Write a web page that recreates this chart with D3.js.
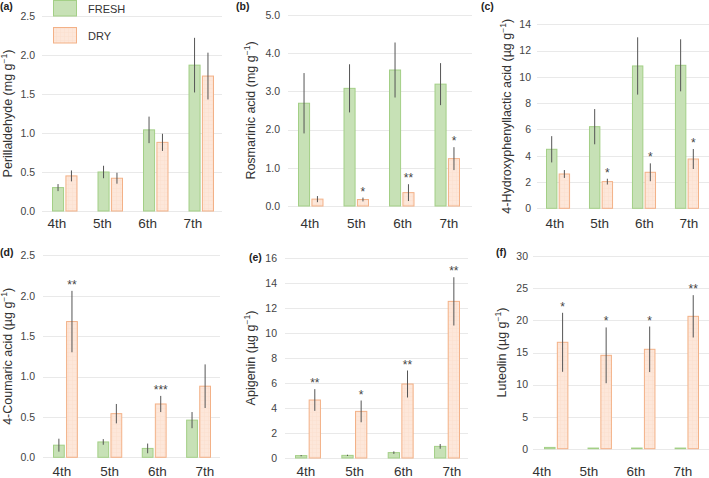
<!DOCTYPE html>
<html><head><meta charset="utf-8">
<script src="https://cdn.jsdelivr.net/npm/d3@7"></script>
<style>
html,body{margin:0;padding:0;background:#fff;}
svg{display:block;font-family:"Liberation Sans",Arial,sans-serif;}
</style></head>
<body><svg id="chart" width="709" height="478"></svg>
<script>
// ---- data ----
const categories = ["4th","5th","6th","7th"];
const seriesNames = ["FRESH","DRY"];
const panelLetters = ["(a)","(b)","(c)","(d)","(e)","(f)"];
const yTitles = ["Perillaldehyde (mg g","Rosmarinic acid (mg g","4-Hydroxyphenyllactic acid (µg g","4-Coumaric acid (µg g","Apigenin (µg g","Luteolin (µg g"];
const yMax = [2.5, 5.0, 14, 2.5, 16, 30];
const yStep = [0.5, 1.0, 2, 0.5, 2, 5];
const yDecimals = [1, 1, 0, 1, 0, 0];

const freshA = [0.30, 0.50, 1.04, 1.87], freshAErr = [0.045, 0.08, 0.17, 0.35];
const dryA   = [0.45, 0.42, 0.88, 1.73], dryAErr   = [0.07, 0.07, 0.11, 0.30];
const freshB = [2.69, 3.08, 3.56, 3.19], freshBErr = [0.79, 0.63, 0.72, 0.55];
const dryB   = [0.18, 0.17, 0.35, 1.24], dryBErr   = [0.08, 0.05, 0.22, 0.30];
const freshC = [4.49, 6.21, 10.83, 10.88], freshCErr = [1.0, 1.34, 2.18, 1.98];
const dryC   = [2.61, 2.03, 2.74, 3.75], dryCErr   = [0.3, 0.22, 0.68, 0.76];
const freshD = [0.15, 0.19, 0.11, 0.46], freshDErr = [0.08, 0.035, 0.06, 0.10];
const dryD   = [1.68, 0.54, 0.66, 0.88], dryDErr   = [0.38, 0.12, 0.10, 0.27];
const freshE = [0.19, 0.21, 0.43, 0.93], freshEErr = [0.05, 0.05, 0.10, 0.19];
const dryE   = [4.64, 3.73, 5.92, 12.53], dryEErr  = [0.87, 0.87, 1.08, 1.93];
const freshF = [0.2, 0.1, 0.1, 0.1], freshFErr = [0, 0, 0, 0];
const dryF   = [16.59, 14.56, 15.5, 20.64], dryFErr = [4.6, 4.35, 3.55, 3.3];

const sigA = ["","","",""];
const sigB = ["","*","**","*"];
const sigC = ["","*","*","*"];
const sigD = ["**","","***",""];
const sigE = ["**","*","**","**"];
const sigF = ["*","*","*","**"];

const fresh = [freshA,freshB,freshC,freshD,freshE,freshF];
const freshErr = [freshAErr,freshBErr,freshCErr,freshDErr,freshEErr,freshFErr];
const dry = [dryA,dryB,dryC,dryD,dryE,dryF];
const dryErr = [dryAErr,dryBErr,dryCErr,dryDErr,dryEErr,dryFErr];
const sig = [sigA,sigB,sigC,sigD,sigE,sigF];

// ---- layout (pixels) ----
const layout = [
  {zero:211, top:16, gx:[42,222], bars:[52,214], lab:[57,193], labY:228, tickX:35, titleX:8, letter:[0,10]},
  {zero:206, top:15, gx:[288,472], bars:[298,460], lab:[310,449], labY:228, tickX:280, titleX:251, letter:[236,10]},
  {zero:208.3, top:24.3, gx:[537,709], bars:[546,699], lab:[555,689], labY:228, tickX:531, titleX:507, letter:[481,10]},
  {zero:457.3, top:255.3, gx:[43,220], bars:[53,211], lab:[62,205], labY:476, tickX:35, titleX:8, letter:[0,256]},
  {zero:458, top:258, gx:[285,468], bars:[295,460], lab:[306,452], labY:476, tickX:277, titleX:251, letter:[249,261]},
  {zero:448.7, top:256.3, gx:[533,709], bars:[544,699], lab:[542,683], labY:476, tickX:528, titleX:502, letter:[496,256]}
];

const colors = {FRESH:{fill:"#c7e1b6", stroke:"#a3cf86"}, DRY:{fill:"#fde7da", stroke:"#f3b187"}};
const textCol = "#333";

const svg = d3.select("#chart");
const defs = svg.append("defs");
const pat = defs.append("pattern").attr("id","dryPat").attr("patternUnits","userSpaceOnUse").attr("width",4).attr("height",4);
pat.append("rect").attr("width",4).attr("height",4).attr("fill",colors.DRY.fill);
pat.append("path").attr("d","M0,0.5H4M0.5,0V4").attr("stroke","#fbdfcf").attr("stroke-width",0.5);

layout.forEach((L, i) => {
  const g = svg.append("g");
  const y = d3.scaleLinear().domain([0, yMax[i]]).range([L.zero, L.top]);
  const ticks = d3.range(0, yMax[i] + yStep[i]/2, yStep[i]);
  const fmt = d3.format("." + yDecimals[i] + "f");

  // gridlines
  g.selectAll("line.grid").data(ticks).join("line")
    .attr("x1", L.gx[0]).attr("x2", L.gx[1])
    .attr("y1", d => Math.round(y(d)) + 0.5).attr("y2", d => Math.round(y(d)) + 0.5)
    .attr("stroke", "#e9e9e9").attr("stroke-width", 1);
  // tick labels via axis
  const ax = g.append("g").attr("transform", `translate(${L.tickX},0)`)
    .call(d3.axisLeft(y).tickValues(ticks).tickFormat(fmt).tickSize(0).tickPadding(0));
  ax.select(".domain").remove();
  ax.selectAll("text").attr("fill", "#444").attr("font-size", 10.5).attr("font-family", "Liberation Sans, Arial, sans-serif");

  // bars
  const x = d3.scaleBand().domain(categories).range(L.bars).paddingInner(0.44).paddingOuter(0);
  const xs = d3.scaleBand().domain(seriesNames).range([0, x.bandwidth()]).paddingInner(0.1);
  const rows = [];
  categories.forEach((c, k) => {
    rows.push({c, s:"FRESH", v:fresh[i][k], e:freshErr[i][k], sig:""});
    rows.push({c, s:"DRY", v:dry[i][k], e:dryErr[i][k], sig:sig[i][k]});
  });
  g.selectAll("rect.bar").data(rows).join("rect")
    .attr("x", d => x(d.c) + xs(d.s) + 0.5)
    .attr("y", d => y(d.v))
    .attr("width", xs.bandwidth() - 1)
    .attr("height", d => Math.max(0.5, y(0) - y(d.v)))
    .attr("fill", d => d.s === "DRY" ? "url(#dryPat)" : colors.FRESH.fill)
    .attr("stroke", d => colors[d.s].stroke).attr("stroke-width", 1);
  // error bars
  g.selectAll("line.err").data(rows.filter(d => d.e > 0)).join("line")
    .attr("x1", d => x(d.c) + xs(d.s) + xs.bandwidth()/2).attr("x2", d => x(d.c) + xs(d.s) + xs.bandwidth()/2)
    .attr("y1", d => y(d.v + d.e)).attr("y2", d => y(Math.max(0, d.v - d.e)))
    .attr("stroke", "#555").attr("stroke-width", 1);
  // significance
  g.selectAll("text.sig").data(rows.filter(d => d.sig)).join("text")
    .attr("x", d => x(d.c) + xs(d.s) + xs.bandwidth()/2)
    .attr("y", d => y(d.v + d.e) - 2)
    .attr("text-anchor", "middle").attr("font-size", 12).attr("fill", "#444")
    .text(d => d.sig);

  // category labels
  const xl = d3.scalePoint().domain(categories).range(L.lab);
  g.selectAll("text.cat").data(categories).join("text")
    .attr("x", d => xl(d)).attr("y", L.labY)
    .attr("text-anchor", "middle").attr("font-size", 13.5).attr("fill", textCol)
    .text(d => d);

  // y title
  const cy = (L.zero + L.top) / 2;
  const t = g.append("text").attr("transform", `translate(${L.titleX},${cy}) rotate(-90)`)
    .attr("text-anchor", "middle").attr("dominant-baseline", "central")
    .attr("font-size", 12.5).attr("fill", textCol);
  t.append("tspan").text(yTitles[i]);
  t.append("tspan").attr("dy", -4).attr("font-size", 8.5).text("−1");
  t.append("tspan").attr("dy", 4).text(")");

  // panel letter
  g.append("text").attr("x", L.letter[0]).attr("y", L.letter[1])
    .attr("font-size", 10.5).attr("font-weight", "bold").attr("fill", "#222")
    .text(panelLetters[i]);
});

// legend
const leg = svg.append("g");
const legY = [0, 27];
seriesNames.forEach((s, k) => {
  leg.append("rect").attr("x", 53.5).attr("y", legY[k] + 0.5).attr("width", 23).attr("height", 15.5)
    .attr("fill", s === "DRY" ? "url(#dryPat)" : colors.FRESH.fill)
    .attr("stroke", colors[s].stroke).attr("stroke-width", 1);
  leg.append("text").attr("x", 88).attr("y", legY[k] + 8.5).attr("dominant-baseline", "central")
    .attr("font-size", 11).attr("fill", textCol).text(s);
});
</script></body></html>
